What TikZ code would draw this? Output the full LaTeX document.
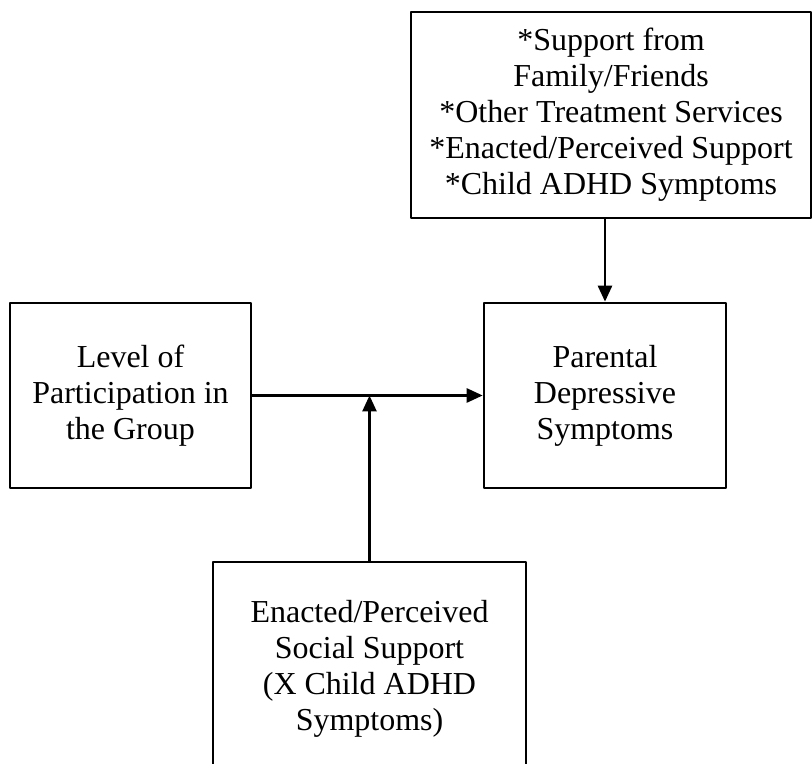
\documentclass[tikz,border=0pt]{standalone}
\usepackage{fontspec}
\setmainfont{Liberation Serif}
\usepackage{tikz}
\usetikzlibrary{arrows.meta,calc,positioning}

\tikzset{factor/.style={draw,line width=1.5pt,align=center,inner sep=0pt,
  font=\fontsize{18.2}{20.5}\selectfont}}

\begin{document}
\begin{tikzpicture}[line cap=round,line join=round,>={Triangle[length=0.32cm,width=0.28cm]},x=1.0cm,y=1.0cm]
\useasboundingbox (0,0) rectangle (16.24,15.28);
\clip (0,0) rectangle (16.24,15.28);
% boxes
\node [factor,minimum width=4.82cm,minimum height=3.70cm] (level) at (2.61,7.37) {Level of\\Participation in\\the Group};
\node [factor,minimum width=4.84cm,minimum height=3.70cm] (parent) at (12.10,7.37) {Parental\\Depressive\\Symptoms};
\node [factor,minimum width=8.00cm,minimum height=4.12cm] (covar) at (12.22,12.98) {*Support from\\Family/Friends\\*Other Treatment Services\\*Enacted/Perceived Support\\*Child ADHD Symptoms};
\node [factor,minimum width=6.26cm,minimum height=4.28cm] (social) at (7.39,1.90) {Enacted/Perceived\\Social Support\\(X Child ADHD\\Symptoms)};
% paths
\draw[->,line width=1.5pt] (level.east) -- (parent.west);
\draw[->,line width=1.5pt] (social.north) -- (social.north |- level.east);
\draw[->,line width=1.5pt] (covar.south -| parent.north) -- (parent.north);
\end{tikzpicture}
\end{document}
